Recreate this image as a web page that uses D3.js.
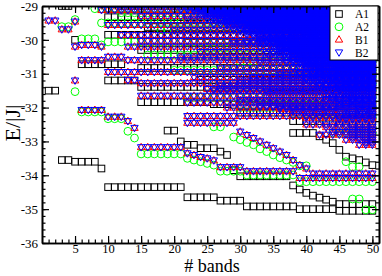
<!DOCTYPE html>
<html><head><meta charset="utf-8">
<script src="https://cdn.jsdelivr.net/npm/d3@7"></script>
<style>body{margin:0;background:#fff}svg{display:block}</style>
</head><body>
<svg id="c" width="382" height="276"></svg>
<script>
// ---- data: each run [xFrom, xTo, E] = one energy level seen at every # bands in that range
const xTicks = [5,10,15,20,25,30,35,40,45,50];
const yTicks = [-36,-35,-34,-33,-32,-31,-30,-29];
const seriesNames = ["A1","A2","B1","B2"];

const a1Runs = [
 [1,2,-31.5],[3,4,-29.0],[3,4,-33.55],[5,8,-33.6],[9,9,-33.8],[5,5,-30.0],
 [10,21,-34.35],[22,26,-34.65],[27,30,-34.75],[31,38,-34.92],[39,44,-35.0],[45,50,-35.05],
 [6,12,-30.72],[10,14,-31.2],[10,50,-29.08],[10,50,-29.33],[10,50,-29.85],
 [15,50,-30.83],[15,50,-31.39],[15,25,-31.84],[26,28,-31.9],
 [19,20,-32.68],[21,21,-33.0],[22,23,-33.1],[24,26,-33.2],[27,27,-33.3],[28,28,-33.4],
 [29,29,-33.85],[30,37,-34.03],[38,38,-34.3],[39,39,-34.42],[40,40,-34.52],[41,41,-34.6],
 [42,42,-34.66],[43,43,-34.72],[44,44,-34.78],[45,50,-34.85],
 [38,41,-32.75],[42,42,-32.85],[43,43,-32.95],[44,44,-33.05],[45,45,-33.25],[46,46,-33.45],
 [47,47,-33.5],[48,48,-33.55],[49,49,-33.62],[50,50,-33.7],
 [16,50,-29.62],[22,50,-30.08],[15,50,-30.3],[28,50,-30.5],[32,50,-31.0],[24,50,-31.18],
 [35,50,-31.6],[29,50,-31.92],[30,50,-32.15],[38,50,-32.4]
];
const a2Runs = [
 [3,4,-29.61],[5,5,-29.4],[6,8,-29.97],[9,9,-30.15],[5,5,-31.53],
 [6,9,-32.13],[10,12,-32.33],[13,13,-32.7],[14,14,-32.9],[15,21,-33.37],[22,22,-33.5],
 [23,23,-33.55],[24,24,-33.6],[25,25,-33.65],[26,26,-33.7],[27,30,-33.88],[31,38,-33.99],[39,50,-34.19],
 [29,29,-32.87],[30,30,-32.95],[31,31,-33.03],[32,32,-33.1],[33,33,-33.22],[34,34,-33.3],
 [35,35,-33.4],[36,36,-33.48],[37,37,-33.55],[38,38,-33.62],[39,40,-33.72],
 [46,46,-33.6],[47,48,-33.75],[47,48,-34.7],[49,50,-35.02],[26,27,-32.57],
 [8,50,-29.08],[12,50,-29.2],[9,50,-29.5],[18,50,-29.7],[10,50,-30.06],[25,50,-30.2],
 [16,50,-30.45],[30,50,-30.65],[20,50,-30.9],[35,50,-31.1],[26,50,-31.3],[40,50,-31.5],
 [22,50,-31.7],[30,50,-32.0],[42,50,-32.3],[45,50,-32.6],[34,50,-31.82],[44,50,-32.75]
];
const bRuns = [
 [1,2,-29.43],[3,4,-29.69],[5,5,-29.46],[5,5,-30.2],[6,8,-30.15],[9,9,-30.2],
 [6,9,-30.6],[10,12,-30.5],[5,5,-31.2],
 [6,9,-32.07],[10,12,-32.27],[13,13,-32.4],[14,14,-32.6],[15,21,-33.17],[22,22,-33.35],
 [23,23,-33.4],[24,24,-33.46],[25,25,-33.5],[26,26,-33.56],[27,30,-33.76],[31,38,-33.88],[39,50,-34.08],
 [30,30,-32.71],[31,31,-32.81],[32,32,-32.9],[33,33,-33.0],[34,34,-33.1],[35,35,-33.2],
 [36,36,-33.3],[37,37,-33.4],[38,38,-33.55],[39,39,-33.7],[40,40,-33.8],[41,50,-33.95],
 [12,50,-29.02],[9,50,-29.12],[25,50,-29.21],[15,50,-29.3],[22,50,-29.4],[28,50,-29.48],
 [10,50,-29.56],[31,50,-29.64],[20,50,-29.72],[12,50,-29.86],[33,50,-29.96],[15,50,-30.03],
 [29,50,-30.1],[13,50,-30.2],[36,50,-30.28],[24,50,-30.36],[38,50,-30.44],[21,50,-30.52],
 [13,50,-30.6],[33,50,-30.68],[40,50,-30.76],[27,50,-30.84],[10,50,-30.95],[36,50,-31.03],
 [23,50,-31.1],[13,14,-31.19],[30,50,-31.2],[15,50,-31.28],[41,50,-31.37],[25,50,-31.45],
 [34,50,-31.55],[15,50,-31.65],[43,50,-31.75],[22,50,-31.85],[28,50,-32.0],[38,50,-32.12],
 [22,50,-32.25],[45,50,-32.35],[22,29,-32.45],[40,50,-32.5],[47,50,-32.65],[42,50,-32.8],
 [46,50,-32.95],[48,50,-33.1],
 [32,50,-31.12],[27,50,-31.35],[26,50,-31.5],[30,50,-31.78],[33,50,-31.95],[36,50,-32.05],
 [40,50,-32.3],[43,50,-32.58],[44,50,-32.72],[47,50,-32.88],[49,50,-33.03]
];
const b1Extra = [[34,50,-29.9],[40,50,-30.4],
 [23,50,-29.05],[26,50,-29.16],[27,50,-29.35],[29,50,-29.53],[31,50,-29.7],[33,50,-29.88],
 [35,50,-30.07],[37,50,-30.25],[38,50,-30.47],[40,50,-30.7],[41,50,-30.9],[43,50,-31.15],[45,50,-31.4]];
const b2Extra = [[30,50,-29.26],[35,50,-29.35],[32,50,-29.6],[38,50,-29.78],[40,50,-29.92],
 [36,50,-30.15],[42,50,-30.32],[44,50,-30.55],[45,50,-30.9],[46,50,-31.3],
 [22,50,-29.04],[24,50,-29.07],[21,50,-29.09],[25,50,-29.15],[23,50,-29.17],[27,50,-29.19],
 [24,50,-29.24],[26,50,-29.28],[28,50,-29.32],[25,50,-29.37],[29,50,-29.42],[27,50,-29.44],
 [31,50,-29.46],[26,50,-29.51],[30,50,-29.53],[28,50,-29.58],[32,50,-29.62],[29,50,-29.67],
 [33,50,-29.69],[30,50,-29.75],[31,50,-29.81],[34,50,-29.83],[32,50,-29.89],[35,50,-29.94],
 [33,50,-29.99],[36,50,-30.01],[34,50,-30.06],[31,50,-30.08],[35,50,-30.13],[37,50,-30.18],
 [33,50,-30.23],[36,50,-30.25],[38,50,-30.3],[35,50,-30.34],[37,50,-30.39],[34,50,-30.42],
 [39,50,-30.47],[36,50,-30.5],[38,50,-30.57],[40,50,-30.62],[37,50,-30.65],[39,50,-30.71],
 [41,50,-30.74],[38,50,-30.8],[40,50,-30.87],[42,50,-30.92],[39,50,-30.98],[41,50,-31.06],
 [43,50,-31.13],[40,50,-31.16],[44,50,-31.23],[42,50,-31.33],[45,50,-31.41],[43,50,-31.48],
 [46,50,-31.58],[44,50,-31.7],[47,50,-31.8],[45,50,-31.9],[48,50,-32.05],[46,50,-32.2]];

// ---- layout
const svg = d3.select("#c");
const L = 42, R = 379, T = 6, B = 243;
const x = d3.scaleLinear().domain([0, 51]).range([L, R]);
const y = d3.scaleLinear().domain([-36, -29]).range([B, T]);
const serif = "'Liberation Serif','Times New Roman',serif";

function expand(runs){
  const pts = [];
  runs.forEach(([a,b,v]) => { for (let i = a; i <= b; i++) pts.push([i, v]); });
  return pts;
}

svg.append("defs").append("clipPath").attr("id","clip")
  .append("rect").attr("x",L).attr("y",T).attr("width",R-L).attr("height",B-T);
const g = svg.append("g").attr("clip-path","url(#clip)");

const sq = 6.6, cr = 3.9;
const up = "M0,-3.9L3.7,2.5L-3.7,2.5Z", dn = "M0,3.9L3.7,-2.5L-3.7,-2.5Z";

g.append("g").selectAll("rect").data(expand(a1Runs)).join("rect")
  .attr("x", d => x(d[0]) - sq/2).attr("y", d => y(d[1]) - sq/2)
  .attr("width", sq).attr("height", sq)
  .attr("fill","none").attr("stroke","#000").attr("stroke-width",1);
g.append("g").selectAll("circle").data(expand(a2Runs)).join("circle")
  .attr("cx", d => x(d[0])).attr("cy", d => y(d[1])).attr("r", cr)
  .attr("fill","none").attr("stroke","#00ff00").attr("stroke-width",1);
g.append("g").selectAll("path").data(expand(bRuns.concat(b1Extra))).join("path")
  .attr("d", up).attr("transform", d => `translate(${x(d[0])},${y(d[1])})`)
  .attr("fill","none").attr("stroke","#ff0000").attr("stroke-width",1);
g.append("g").selectAll("path").data(expand(bRuns.concat(b2Extra))).join("path")
  .attr("d", dn).attr("transform", d => `translate(${x(d[0])},${y(d[1])})`)
  .attr("fill","none").attr("stroke","#0000ff").attr("stroke-width",1);

// ---- axes (ticks inward on all four sides)
const minorX = d3.range(1, 51), minorY = d3.range(-36, -28.99, 0.2);
function styleAxis(sel, fs){
  sel.selectAll("path.domain").attr("stroke","#000").attr("stroke-width",1.6);
  sel.selectAll(".tick line").attr("stroke","#000").attr("stroke-width",1.2);
  sel.selectAll("text").attr("font-family",serif).attr("font-size",fs).attr("fill","#000");
}
const ax = [
  [d3.axisBottom(x).tickValues(xTicks).tickSize(-7).tickSizeOuter(0).tickPadding(1.5), `translate(0,${B})`, 12.5],
  [d3.axisBottom(x).tickValues(minorX).tickSize(-3.5).tickSizeOuter(0).tickFormat(""), `translate(0,${B})`, 12.5],
  [d3.axisTop(x).tickValues(xTicks).tickSize(-7).tickSizeOuter(0).tickFormat(""), `translate(0,${T})`, 12.5],
  [d3.axisTop(x).tickValues(minorX).tickSize(-3.5).tickSizeOuter(0).tickFormat(""), `translate(0,${T})`, 12.5],
  [d3.axisLeft(y).tickValues(yTicks).tickSize(-7).tickSizeOuter(0).tickPadding(4).tickFormat(d3.format("d")), `translate(${L},0)`, 13],
  [d3.axisLeft(y).tickValues(minorY).tickSize(-3.5).tickSizeOuter(0).tickFormat(""), `translate(${L},0)`, 13],
  [d3.axisRight(y).tickValues(yTicks).tickSize(-7).tickSizeOuter(0).tickFormat(""), `translate(${R},0)`, 13],
  [d3.axisRight(y).tickValues(minorY).tickSize(-3.5).tickSizeOuter(0).tickFormat(""), `translate(${R},0)`, 13]
];
ax.forEach(([a, t, fs]) => svg.append("g").attr("transform", t).call(a).call(styleAxis, fs));
svg.selectAll("text").filter(function(){return this.textContent.startsWith("−");})
  .text(function(){return "-" + this.textContent.slice(1);});

// ---- axis titles
svg.append("text").attr("x", 212).attr("y", 272).attr("text-anchor","middle")
  .attr("font-family", serif).attr("font-size", 18).text("# bands");
svg.append("text").attr("transform","translate(20,123) rotate(-90)").attr("text-anchor","middle")
  .attr("font-family", serif).attr("font-size", 22).text("E/|J|");

// ---- legend
const lg = svg.append("g");
lg.append("rect").attr("x",330).attr("y",6).attr("width",48).attr("height",54)
  .attr("fill","#fff").attr("stroke","#000").attr("stroke-width",1);
const ly = d3.scalePoint().domain(seriesNames).range([14, 52.4]);
seriesNames.forEach(n => {
  const cy = ly(n), cx = 339;
  if (n === "A1") lg.append("rect").attr("x",cx-sq/2).attr("y",cy-sq/2).attr("width",sq).attr("height",sq).attr("fill","none").attr("stroke","#000");
  if (n === "A2") lg.append("circle").attr("cx",cx).attr("cy",cy).attr("r",cr).attr("fill","none").attr("stroke","#00ff00");
  if (n === "B1") lg.append("path").attr("d",up).attr("transform",`translate(${cx},${cy})`).attr("fill","none").attr("stroke","#ff0000");
  if (n === "B2") lg.append("path").attr("d",dn).attr("transform",`translate(${cx},${cy})`).attr("fill","none").attr("stroke","#0000ff");
  lg.append("text").attr("x",355).attr("y",cy+4.2).attr("font-family",serif).attr("font-size",11.5).text(n);
});
</script>
</body></html>
